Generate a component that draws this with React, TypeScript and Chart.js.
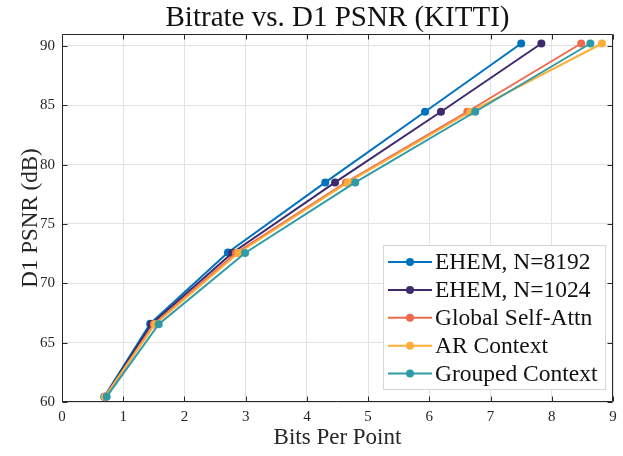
import { useEffect, useRef } from 'react';
import { Chart, registerables } from 'chart.js';

Chart.register(...registerables);

// ---- Data ----
const seriesLabels = ['EHEM, N=8192', 'EHEM, N=1024', 'Global Self-Attn', 'AR Context', 'Grouped Context'];
const seriesColors = ['#0072BD', '#3D2B6E', '#EE6A4D', '#FDAE38', '#2E9BA6'];

const bppEhem8192 = [0.69, 1.44, 2.71, 4.30, 5.93, 7.50];
const psnrEhem8192 = [60.45, 66.6, 72.6, 78.5, 84.45, 90.2];

const bppEhem1024 = [0.70, 1.46, 2.78, 4.46, 6.19, 7.83];
const psnrEhem1024 = [60.45, 66.55, 72.55, 78.5, 84.45, 90.2];

const bppGlobal = [0.71, 1.50, 2.84, 4.64, 6.62, 8.48];
const psnrGlobal = [60.45, 66.55, 72.55, 78.5, 84.45, 90.2];

const bppAR = [0.70, 1.52, 2.88, 4.67, 6.67, 8.82];
const psnrAR = [60.45, 66.55, 72.55, 78.5, 84.45, 90.2];

const bppGrouped = [0.73, 1.58, 2.99, 4.79, 6.75, 8.63];
const psnrGrouped = [60.45, 66.55, 72.55, 78.5, 84.45, 90.2];

const seriesX = [bppEhem8192, bppEhem1024, bppGlobal, bppAR, bppGrouped];
const seriesY = [psnrEhem8192, psnrEhem1024, psnrGlobal, psnrAR, psnrGrouped];

const xTicks = [0, 1, 2, 3, 4, 5, 6, 7, 8, 9];
const yTicks = [60, 65, 70, 75, 80, 85, 90];

const titleText = 'Bitrate vs. D1 PSNR (KITTI)';
const xTitle = 'Bits Per Point';
const yTitle = 'D1 PSNR (dB)';

const SERIF = "'Liberation Serif', 'Times New Roman', serif";
const AXIS_COLOR = '#262626';

// MATLAB-like frame with inward ticks on all sides
const framePlugin = {
  id: 'matlabFrame',
  afterDatasetsDraw(chart: any) {
    const { ctx, chartArea: a, scales } = chart;
    const xs = scales.x;
    const ys = scales.y;
    const tl = 5;
    ctx.save();
    ctx.strokeStyle = AXIS_COLOR;
    ctx.lineWidth = 1;
    ctx.beginPath();
    const L = Math.round(a.left) + 0.5;
    const R = Math.round(a.right) - 0.5;
    const T = Math.round(a.top) + 0.5;
    const B = Math.round(a.bottom) - 0.5;
    ctx.rect(L, T, R - L, B - T);
    for (const t of xTicks) {
      const px = Math.round(xs.getPixelForValue(t)) + 0.5;
      ctx.moveTo(px, B); ctx.lineTo(px, B - tl);
      ctx.moveTo(px, T); ctx.lineTo(px, T + tl);
    }
    for (const t of yTicks) {
      const py = Math.round(ys.getPixelForValue(t)) + 0.5;
      ctx.moveTo(L, py); ctx.lineTo(L + tl, py);
      ctx.moveTo(R, py); ctx.lineTo(R - tl, py);
    }
    ctx.stroke();
    ctx.restore();
  },
};

// Legend drawn inside the axes (south-east), MATLAB style
const legendPlugin = {
  id: 'insideLegend',
  afterDraw(chart: any) {
    const { ctx } = chart;
    const boxL = 383, boxT = 245, boxR = 606, boxB = 390;
    ctx.save();
    ctx.fillStyle = '#FFFFFF';
    ctx.fillRect(boxL, boxT, boxR - boxL, boxB - boxT);
    ctx.strokeStyle = '#D6D6D6';
    ctx.lineWidth = 1;
    ctx.strokeRect(boxL + 0.5, boxT + 0.5, boxR - boxL - 1, boxB - boxT - 1);
    const rowH = 27.9;
    const firstY = 262;
    chart.data.datasets.forEach((ds: any, i: number) => {
      const y = firstY + i * rowH;
      ctx.strokeStyle = ds.borderColor;
      ctx.lineWidth = 2;
      ctx.beginPath();
      ctx.moveTo(388, y);
      ctx.lineTo(432, y);
      ctx.stroke();
      ctx.fillStyle = ds.borderColor;
      ctx.beginPath();
      ctx.arc(410, y, 4, 0, Math.PI * 2);
      ctx.fill();
      ctx.fillStyle = '#111111';
      ctx.font = `23.5px ${SERIF}`;
      ctx.textAlign = 'left';
      ctx.textBaseline = 'middle';
      ctx.fillText(ds.label, 435, y + 1);
    });
    ctx.restore();
  },
};

export default function App() {
  const canvasRef = useRef<HTMLCanvasElement | null>(null);

  useEffect(() => {
    document.body.style.margin = '0';
    const canvas = canvasRef.current;
    if (!canvas) return;

    const datasets = seriesLabels.map((label, i) => ({
      label,
      data: seriesX[i].map((x, j) => ({ x, y: seriesY[i][j] })),
      borderColor: seriesColors[i],
      backgroundColor: seriesColors[i],
      pointBackgroundColor: seriesColors[i],
      pointBorderWidth: 0,
      pointRadius: 4,
      borderWidth: 2,
      showLine: true,
      fill: false,
      order: seriesLabels.length - 1 - i,
    }));

    const chart = new Chart(canvas, {
      type: 'scatter',
      data: { datasets },
      options: {
        animation: false,
        responsive: false,
        devicePixelRatio: 1,
        layout: { padding: { left: 0, right: 10, top: 0, bottom: 0 } },
        plugins: {
          legend: { display: false },
          tooltip: { enabled: false },
          title: {
            display: true,
            text: titleText,
            fullSize: false,
            color: '#111111',
            font: { family: SERIF, size: 29, weight: 'normal', lineHeight: 1 },
            padding: { top: 4, bottom: 1 },
          },
        },
        scales: {
          x: {
            type: 'linear',
            min: 0,
            max: 9,
            afterBuildTicks: (s: any) => { s.ticks = xTicks.map((v) => ({ value: v })); },
            afterFit: (s: any) => { s.height = 54; s.paddingLeft = 0; s.paddingRight = 0; },
            grid: { color: '#E2E2E2', lineWidth: 1, drawTicks: false },
            border: { display: false },
            ticks: {
              color: AXIS_COLOR,
              padding: 6,
              maxRotation: 0,
              font: { family: SERIF, size: 15 },
            },
            title: {
              display: true,
              text: xTitle,
              color: AXIS_COLOR,
              font: { family: SERIF, size: 23, lineHeight: 1 },
              padding: { top: 0, bottom: 6.5 },
            },
          },
          y: {
            type: 'linear',
            min: 60,
            max: 91,
            afterBuildTicks: (s: any) => { s.ticks = yTicks.map((v) => ({ value: v })); },
            afterFit: (s: any) => { s.width = 62; s.paddingTop = 0; s.paddingBottom = 0; },
            grid: { color: '#E2E2E2', lineWidth: 1, drawTicks: false },
            border: { display: false },
            ticks: {
              color: AXIS_COLOR,
              padding: 7,
              font: { family: SERIF, size: 15 },
            },
            title: {
              display: true,
              text: yTitle,
              color: AXIS_COLOR,
              font: { family: SERIF, size: 23, lineHeight: 1 },
              padding: { top: 19.5, bottom: 0 },
            },
          },
        },
      },
      plugins: [framePlugin, legendPlugin],
    });

    return () => chart.destroy();
  }, []);

  return (
    <div style={{ position: 'fixed', left: 0, top: 0, width: 623, height: 456, background: '#fff' }}>
      <canvas ref={canvasRef} width={623} height={456} style={{ display: 'block' }} />
    </div>
  );
}
